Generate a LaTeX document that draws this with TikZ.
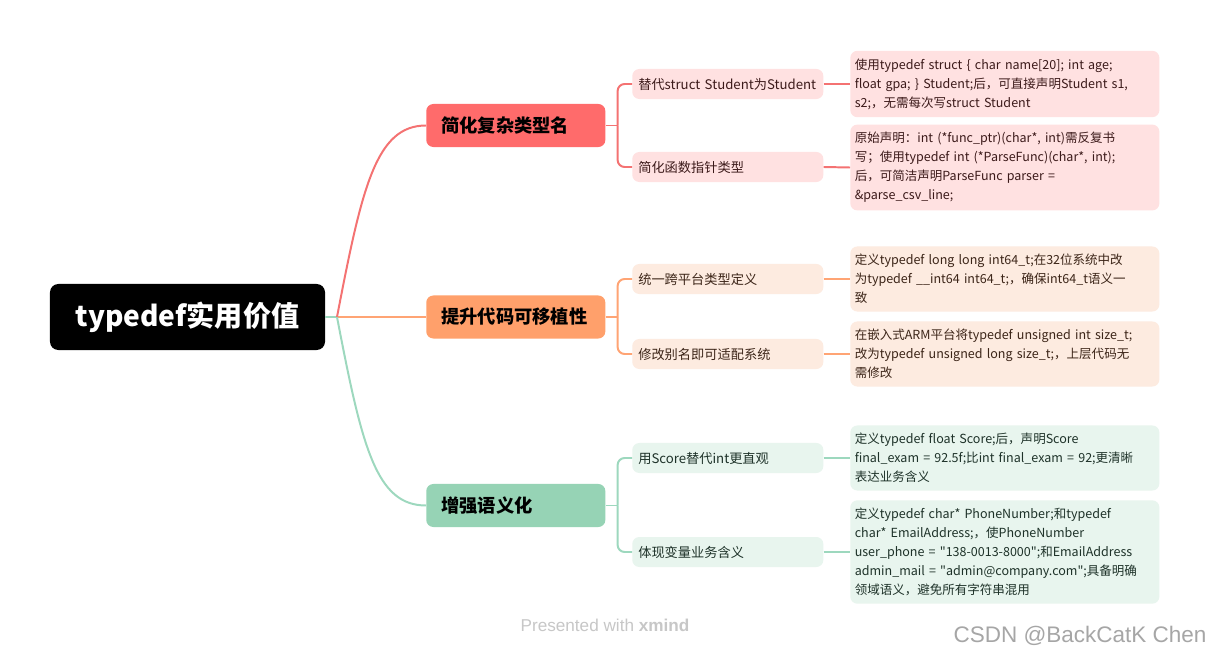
\documentclass[tikz,border=0pt]{standalone}
\usepackage{fontspec}
\setmainfont{Noto Sans CJK SC}[Ligatures=TeXOff]
\newfontfamily\wmfont{Liberation Sans}
\usepackage{tikz}
\usetikzlibrary{positioning}
\definecolor{redTop}{HTML}{FF6B6B}
\definecolor{redLine}{HTML}{F47272}
\definecolor{redSoft}{HTML}{FFE1E1}
\definecolor{redInk}{HTML}{3C1A1A}
\definecolor{orgTop}{HTML}{FFA06B}
\definecolor{orgLine}{HTML}{FFA474}
\definecolor{orgSoft}{HTML}{FDEBE0}
\definecolor{orgInk}{HTML}{3C2518}
\definecolor{grnTop}{HTML}{96D3B5}
\definecolor{grnLine}{HTML}{9DD8BE}
\definecolor{grnSoft}{HTML}{E8F5EE}
\definecolor{grnInk}{HTML}{1E3229}
\newcommand\detailfont{\fontsize{8.9}{13.5}\selectfont\hyphenpenalty=10000\relax}

\begin{document}
\begin{tikzpicture}[
  x=0.025cm,y=-0.025cm,
  rootbox/.style={fill=black,rounded corners=6pt,text=white,font=\bfseries\fontsize{20}{24}\selectfont,minimum width=6.875cm,minimum height=1.65cm},
  topic/.style={anchor=west,rounded corners=5pt,font=\bfseries\fontsize{13}{15}\selectfont,text width=3.725cm,inner xsep=0.375cm,minimum height=1.075cm,align=left},
  subtopic/.style={anchor=west,rounded corners=5pt,font=\fontsize{9.4}{12}\selectfont,text width=4.475cm,inner xsep=0.15cm,minimum height=0.75cm,align=left},
  detail/.style={anchor=west,rounded corners=5pt,font=\detailfont,text width=7.5cm,inner xsep=0.1125cm,inner ysep=5.5pt,align=left},
  link/.style={line width=1.4pt}
]
\useasboundingbox[fill=white] (0,0) rectangle (1210,656);

\node[rootbox] (root) at (187.5,317) {typedef实用价值};
\node[topic,fill=redTop] (simple) at (426,125.5) {简化复杂类型名};
\node[topic,fill=orgTop] (port) at (426,317) {提升代码可移植性};
\node[topic,fill=grnTop] (sema) at (426,505.5) {增强语义化};

\node[subtopic,fill=redSoft,text=redInk] (alias) at (632,84) {替代struct Student为Student};
\node[subtopic,fill=redSoft,text=redInk] (funcptr) at (632,167) {简化函数指针类型};
\node[subtopic,fill=orgSoft,text=orgInk] (unify) at (632,279) {统一跨平台类型定义};
\node[subtopic,fill=orgSoft,text=orgInk] (adapt) at (632,354) {修改别名即可适配系统};
\node[subtopic,fill=grnSoft,text=grnInk] (score) at (632,458) {用Score替代int更直观};
\node[subtopic,fill=grnSoft,text=grnInk] (domain) at (632,552) {体现变量业务含义};

\node[detail,fill=redSoft,text=redInk] (aliasTxt) at (850,84) {使用typedef struct \{ char name[20]; int age;\\float gpa; \} Student;后，可直接声明Student s1,\\s2;，无需每次写struct Student};
\node[detail,fill=redSoft,text=redInk] (funcptrTxt) at (850,167.5) {原始声明：int (*func\_ptr)(char*, int)需反复书\\写；使用typedef int (*ParseFunc)(char*, int);\\后，可简洁声明ParseFunc parser =\\\&parse\_csv\_line;};
\node[detail,fill=orgSoft,text=orgInk] (unifyTxt) at (850,279) {定义typedef long long int64\_t;在32位系统中改\\为typedef \_\_int64 int64\_t;，确保int64\_t语义一\\致};
\node[detail,fill=orgSoft,text=orgInk] (adaptTxt) at (850,354) {在嵌入式ARM平台将typedef unsigned int size\_t;\\改为typedef unsigned long size\_t;，上层代码无\\需修改};
\node[detail,fill=grnSoft,text=grnInk] (scoreTxt) at (850,458) {定义typedef float Score;后，声明Score\\final\_exam = 92.5f;比int final\_exam = 92;更清晰\\表达业务含义};
\node[detail,fill=grnSoft,text=grnInk] (domainTxt) at (850,552) {定义typedef char* PhoneNumber;和typedef\\char* EmailAddress;，使PhoneNumber\\user\_phone = "138-0013-8000";和EmailAddress\\admin\_mail = "admin@company.com";具备明确\\领域语义，避免所有字符串混用};

\coordinate (hub) at (337,317);
\draw[link,grnLine] (root.east) -- (hub);
\draw[link,orgLine] (hub) -- (port.west);
\draw[link,redLine] (hub) .. controls +(25,-130) and +(-50,0) .. (simple.west);
\draw[link,grnLine] (hub) .. controls +(25,130) and +(-50,0) .. (sema.west);

\path (simple.east) ++(12,0) coordinate (j1);
\path (port.east) ++(12,0) coordinate (j2);
\path (sema.east) ++(12,0) coordinate (j3);
\draw[link,redLine] (simple.east) -- (j1);
\draw[link,redLine,rounded corners=5pt] (j1) |- (alias.west);
\draw[link,redLine,rounded corners=5pt] (j1) |- (funcptr.west);
\draw[link,orgLine] (port.east) -- (j2);
\draw[link,orgLine,rounded corners=5pt] (j2) |- (unify.west);
\draw[link,orgLine,rounded corners=5pt] (j2) |- (adapt.west);
\draw[link,grnLine] (sema.east) -- (j3);
\draw[link,grnLine,rounded corners=5pt] (j3) |- (score.west);
\draw[link,grnLine,rounded corners=5pt] (j3) |- (domain.west);

\draw[link,redLine] (alias.east) -- (aliasTxt.west);
\draw[link,redLine] (funcptr.east) -- (funcptrTxt.west);
\draw[link,orgLine] (unify.east) -- (unifyTxt.west);
\draw[link,orgLine] (adapt.east) -- (adaptTxt.west);
\draw[link,grnLine] (score.east) -- (scoreTxt.west);
\draw[link,grnLine] (domain.east) -- (domainTxt.west);

\node[font=\wmfont\fontsize{12.2}{14}\selectfont,text=black!22] (credit) at (605,625) {Presented with \textbf{xmind}};
\node[font=\wmfont\fontsize{16}{18}\selectfont,text=black!35] (mark) at (1080,636) {CSDN @BackCatK Chen};
\end{tikzpicture}
\end{document}
